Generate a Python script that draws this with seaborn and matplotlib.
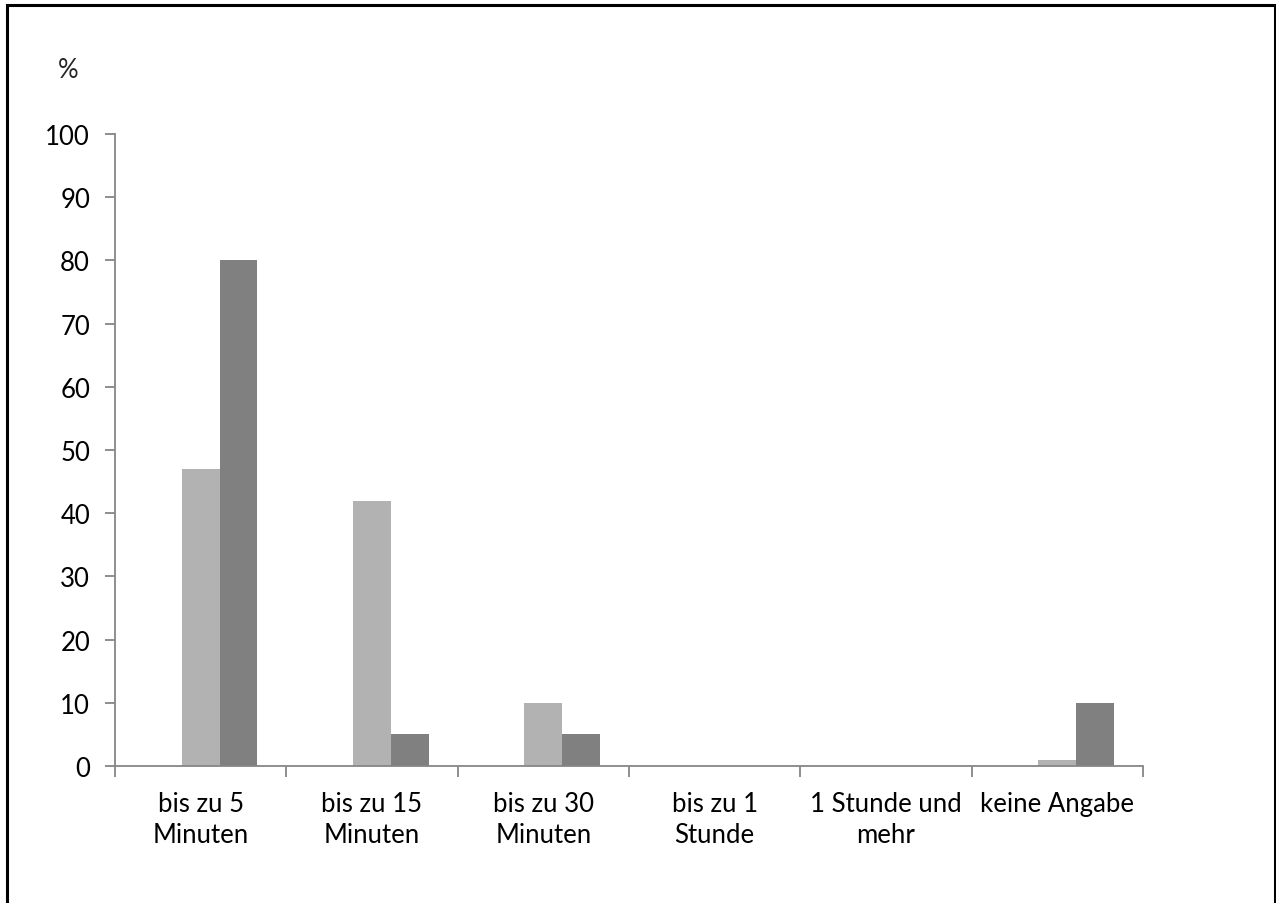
import pandas as pd
import seaborn as sns
import matplotlib.pyplot as plt
from matplotlib.patches import Rectangle

categories = ['bis zu 5\nMinuten', 'bis zu 15\nMinuten', 'bis zu 30\nMinuten',
              'bis zu 1\nStunde', '1 Stunde und\nmehr', 'keine Angabe']
series_names = ['leer', 'Gruppe A', 'Gruppe B']
values_leer = [0, 0, 0, 0, 0, 0]
values_a = [47, 42, 10, 0, 0, 1]
values_b = [80, 5, 5, 0, 0, 10]
y_ticks = [0, 10, 20, 30, 40, 50, 60, 70, 80, 90, 100]

df = pd.DataFrame({
    'kategorie': categories * 3,
    'serie': [series_names[0]] * 6 + [series_names[1]] * 6 + [series_names[2]] * 6,
    'wert': values_leer + values_a + values_b,
})

sns.set_style('white')
plt.rcParams['font.family'] = ['Lato', 'DejaVu Sans']
fs = 18.5

fig = plt.figure(figsize=(12.76, 9.04), dpi=100)
ax = fig.add_axes([115 / 1276, 1 - 767 / 904, (1143 - 115) / 1276, (767 - 135) / 904])

sns.barplot(data=df, x='kategorie', y='wert', hue='serie', order=categories,
            hue_order=series_names, palette=['#FFFFFF', '#B2B2B2', '#808080'],
            width=0.66, gap=0, linewidth=0, errorbar=None, legend=False, ax=ax)

ax.set_xlim(-0.5, len(categories) - 0.5)
ax.set_ylim(0, 100)
ax.set_yticks(y_ticks)
ax.set_xlabel('')
ax.set_ylabel('')

for side in ['top', 'right']:
    ax.spines[side].set_visible(False)
for side in ['left', 'bottom']:
    ax.spines[side].set_color('#868686')
    ax.spines[side].set_linewidth(1.3)

ax.tick_params(axis='y', direction='out', length=7, width=1.3, color='#868686',
               labelsize=fs, labelcolor='black', pad=11, left=True)
ax.tick_params(axis='x', which='major', length=0, labelsize=fs, labelcolor='black', pad=18)
ax.set_xticks([i - 0.5 for i in range(len(categories) + 1)], minor=True)
ax.tick_params(axis='x', which='minor', direction='out', length=8, width=1.3,
               color='#868686', bottom=True)
for lbl in ax.get_xticklabels():
    lbl.set_linespacing(1.3)

fig.text(68 / 1276, 1 - 70 / 904, '%', fontsize=fs, ha='center', va='center')

fig.patches.append(Rectangle((7 / 1276, -0.05), (1275 - 7) / 1276, 1.05 - 6 / 904,
                             transform=fig.transFigure, fill=False,
                             edgecolor='black', linewidth=2.2))

fig.savefig('out.png', dpi=100)
